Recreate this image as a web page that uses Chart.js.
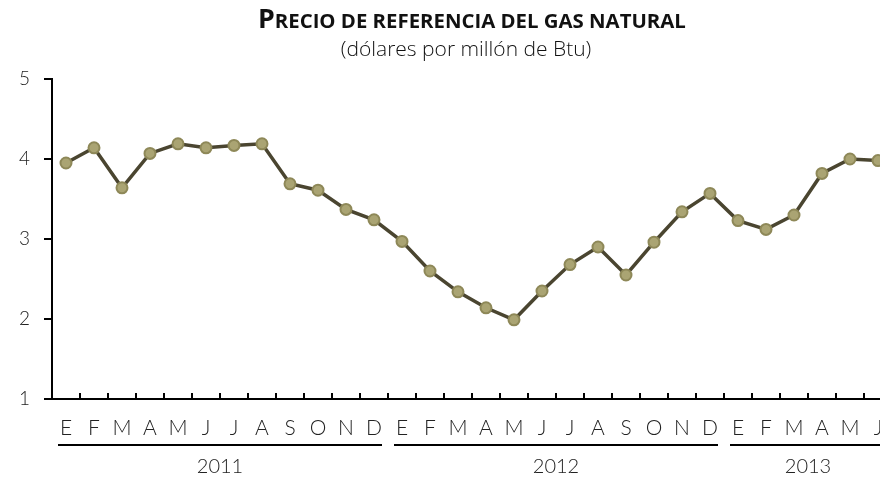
<!DOCTYPE html>
<html>
<head>
<meta charset="utf-8">
<script src="https://cdn.jsdelivr.net/npm/chart.js@4"></script>
<style>
html,body{margin:0;padding:0;background:#fff;overflow:hidden;}
#wrap{width:900px;height:480px;}
</style>
</head>
<body>
<div id="wrap"><canvas id="c" width="900" height="480"></canvas></div>
<script>
const monthLabels = ["E","F","M","A","M","J","J","A","S","O","N","D",
                     "E","F","M","A","M","J","J","A","S","O","N","D",
                     "E","F","M","A","M","J"];
const years = ["2011","2012","2013"];
const yearStart = [0,12,24];
const yearEnd = [11,23,29];
const gasPrice = [3.95,4.14,3.64,4.07,4.19,4.14,4.17,4.19,3.69,3.61,3.37,3.24,
                  2.97,2.60,2.34,2.14,1.99,2.35,2.68,2.90,2.55,2.96,3.34,3.57,
                  3.23,3.12,3.30,3.82,4.00,3.98];
const yTicks = [1,2,3,4,5];
const titleText = "Precio de referencia del gas natural";
const subtitleText = "(dólares por millón de Btu)";

const decor = {
  id: 'decor',
  afterDraw(chart){
    const ctx = chart.ctx, xs = chart.scales.x, ca = chart.chartArea;
    ctx.save();
    // inner tick marks on x axis at category boundaries
    ctx.strokeStyle = '#000'; ctx.lineWidth = 2;
    for (let i = 1; i <= monthLabels.length; i++) {
      const x = Math.round((xs.getPixelForValue(i-1) + xs.getPixelForValue(i)) / 2);
      ctx.beginPath(); ctx.moveTo(x, ca.bottom); ctx.lineTo(x, ca.bottom - 6); ctx.stroke();
    }
    // year underlines and labels
    ctx.lineWidth = 2;
    ctx.fillStyle = '#222';
    ctx.font = '300 20px Lato';
    ctx.textAlign = 'center'; ctx.textBaseline = 'middle';
    for (let k = 0; k < years.length; k++) {
      const x1 = xs.getPixelForValue(yearStart[k]) - 8;
      const x2 = xs.getPixelForValue(yearEnd[k]) + 8;
      ctx.beginPath(); ctx.moveTo(x1, 445); ctx.lineTo(x2, 445); ctx.stroke();
      ctx.fillText(years[k], (x1 + x2) / 2, 467);
    }
    // title in small caps: first letter large, rest as smaller capitals, fitted to width
    const first = titleText.charAt(0).toUpperCase();
    const rest = titleText.slice(1).toUpperCase();
    let big = 23, small = 17.5;
    ctx.font = '700 ' + big + 'px "Open Sans"'; let w1 = ctx.measureText(first).width;
    ctx.font = '700 ' + small + 'px "Open Sans"'; let w2 = ctx.measureText(rest).width;
    const f = 428 / (w1 + w2);
    big *= f; small *= f; w1 *= f; w2 *= f;
    const tx = 258;
    ctx.fillStyle = '#111';
    ctx.textAlign = 'left'; ctx.textBaseline = 'alphabetic';
    ctx.font = '700 ' + big + 'px "Open Sans"'; ctx.fillText(first, tx, 28);
    ctx.font = '700 ' + small + 'px "Open Sans"'; ctx.fillText(rest, tx + w1, 28);
    // subtitle
    ctx.textAlign = 'center'; ctx.textBaseline = 'middle';
    ctx.font = '300 21px "Open Sans"';
    ctx.fillText(subtitleText, 466, 50);
    ctx.restore();
  }
};

new Chart(document.getElementById('c'), {
  type: 'line',
  data: {
    labels: monthLabels,
    datasets: [{
      data: gasPrice,
      borderColor: '#4a4530',
      borderWidth: 3.5,
      pointRadius: 5.5,
      pointBackgroundColor: '#aaa473',
      pointBorderColor: '#8e8858',
      pointBorderWidth: 2,
      tension: 0,
      clip: false
    }]
  },
  options: {
    responsive: false,
    animation: false,
    layout: { padding: { top: 79, right: 8, bottom: 0, left: 0 } },
    plugins: { legend: { display: false }, tooltip: { enabled: false } },
    scales: {
      x: {
        offset: true,
        grid: { display: false, drawTicks: false },
        border: { display: true, color: '#000', width: 2 },
        ticks: { color: '#222', font: { family: 'Lato', size: 21, weight: '300' }, padding: 17, autoSkip: false, maxRotation: 0 },
        afterFit(s){ s.height = 81; }
      },
      y: {
        min: 1, max: 5,
        afterBuildTicks(s){ s.ticks = yTicks.map(v => ({ value: v })); },
        grid: { drawOnChartArea: false, drawTicks: true, tickLength: 8, color: '#000', lineWidth: 2 },
        border: { display: true, color: '#000', width: 2 },
        ticks: { color: '#222', font: { family: 'Lato', size: 19, weight: '300' }, padding: 14 },
        afterFit(s){ s.width = 52; }
      }
    }
  },
  plugins: [decor]
});
</script>
</body>
</html>
